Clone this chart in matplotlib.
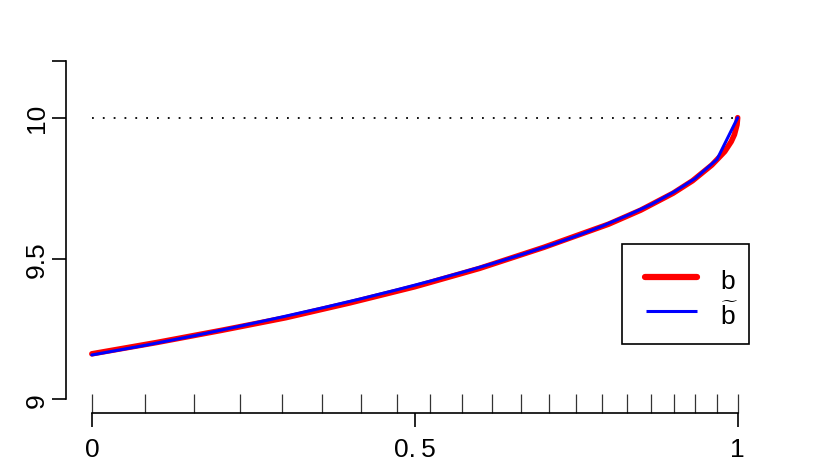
import matplotlib
matplotlib.use("Agg")
import matplotlib.pyplot as plt
from matplotlib.lines import Line2D
from matplotlib.patches import Rectangle

plt.rcParams['font.family'] = ['Liberation Sans', 'DejaVu Sans']
plt.rcParams['mathtext.fontset'] = 'custom'
plt.rcParams['mathtext.rm'] = 'Liberation Sans'

# knots of the piecewise-linear approximation (also shown as rug ticks)
knots = [0, 0.082, 0.158, 0.229, 0.295, 0.357, 0.416, 0.472, 0.524, 0.573,
         0.620, 0.665, 0.708, 0.750, 0.790, 0.829, 0.866, 0.901, 0.934, 0.968, 1.0]
b_tilde = [9.158, 9.192, 9.226, 9.260, 9.293, 9.325, 9.357, 9.389, 9.420, 9.451,
           9.482, 9.514, 9.546, 9.580, 9.615, 9.653, 9.692, 9.736, 9.784, 9.852, 10.0]

# smooth boundary b
t_b = [0, 0.1, 0.2, 0.3, 0.4, 0.5, 0.6, 0.7, 0.8, 0.85, 0.9, 0.93, 0.96,
       0.98, 0.99, 0.995, 0.999, 1.0]
b_vals = [9.162, 9.202, 9.245, 9.290, 9.343, 9.400, 9.465, 9.540, 9.622, 9.672,
          9.732, 9.776, 9.832, 9.880, 9.915, 9.940, 9.975, 10.0]

y_ticks = [9, 9.5, 10, 10.2]
y_labels = ['9', '9.5', '10', '']
x_ticks = [0, 0.5, 1]
x_labels = ['0', '0.\u20095', '1']
legend_labels = ['b', r'$\widetilde{\mathrm{b}}$']

W, H = 830, 464
FS = 19
fig = plt.figure(figsize=(W / 100, H / 100), dpi=100)
left, right, bottom, top = 66, 763.5, 414, 48.8
ax = fig.add_axes([left / W, 1 - bottom / H, (right - left) / W, (bottom - top) / H])
ax.set_xlim(-0.04, 1.04)
ax.set_ylim(9 - 0.048, 10.2 + 0.048)

ax.hlines(10, 0, 1, colors='black', linestyles=(0, (1, 5)), linewidth=1.3)
ax.plot(t_b, b_vals, color='red', lw=4.0, solid_capstyle='round', solid_joinstyle='round')
ax.plot(knots, b_tilde, color='blue', lw=2.2, solid_capstyle='round', solid_joinstyle='round')

# rug ticks at knots
for k in knots:
    ax.plot([k, k], [9 - 0.048, 9 - 0.048 + 19 / 282], color='#333333', lw=0.9,
            solid_capstyle='butt', clip_on=False)

for s in ['top', 'right']:
    ax.spines[s].set_visible(False)
ax.spines['left'].set_bounds(9, 10.2)
ax.spines['bottom'].set_bounds(0, 1)
ax.spines['left'].set_linewidth(1.2)
ax.spines['bottom'].set_linewidth(1.2)

ax.set_yticks(y_ticks)
ax.set_yticklabels(y_labels, rotation=90, va='center', fontsize=FS)
ax.set_xticks(x_ticks)
ax.set_xticklabels(x_labels, fontsize=FS)
ax.tick_params(axis='both', length=10, width=1.2, color='black')
ax.tick_params(axis='y', pad=2.5)
ax.tick_params(axis='x', pad=7)

# legend drawn in figure pixel coordinates (y measured from top)
def fx(x):
    return x / W

def fy(y):
    return 1 - y / H

fig.patches.append(Rectangle((fx(621.7), fy(345)), fx(749.3) - fx(621.7), fy(245) - fy(345),
                             transform=fig.transFigure, fill=False, edgecolor='black',
                             linewidth=1.2, figure=fig))
fig.lines.append(Line2D([fx(645), fx(697)], [fy(278.3), fy(278.3)], transform=fig.transFigure,
                        color='red', lw=4.5, solid_capstyle='round', figure=fig))
fig.lines.append(Line2D([fx(646), fx(697)], [fy(311.7), fy(311.7)], transform=fig.transFigure,
                        color='blue', lw=2.2, solid_capstyle='butt', figure=fig))
fig.text(fx(720), fy(289), legend_labels[0], fontsize=FS, ha='left', va='baseline')
fig.text(fx(720), fy(325), legend_labels[1], fontsize=FS, ha='left', va='baseline')

fig.savefig('out.png', dpi=100)
